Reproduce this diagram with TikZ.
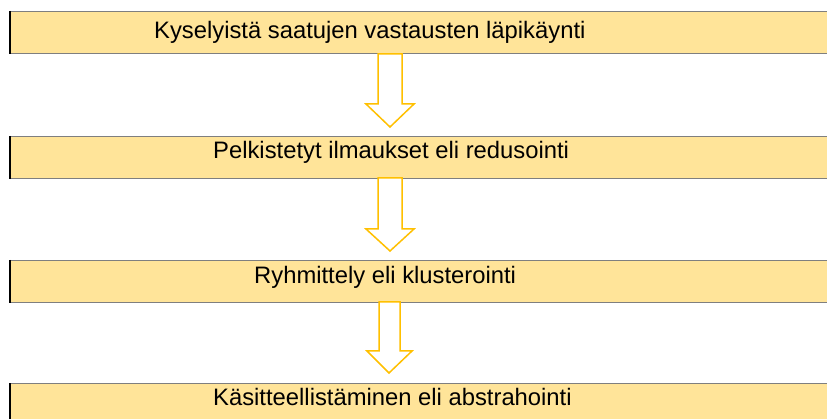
\documentclass[tikz,border=0pt]{standalone}
\usepackage{fontspec}
\setmainfont{Liberation Sans}
\definecolor{boxfill}{HTML}{FFE499}
\definecolor{boxline}{HTML}{7F7F7F}
\definecolor{arrowline}{HTML}{FFC000}
\tikzset{
  stagebox/.style={rectangle, fill=boxfill, draw=boxline, line width=1.3pt, minimum width=840pt, anchor=north west, inner sep=0pt},
  stagetext/.style={anchor=base west, inner sep=0pt, font=\fontsize{23.8}{28}\selectfont},
  flowarrow/.style={fill=white, draw=arrowline, line width=1.5pt, line join=miter}
}
\begin{document}
\begin{tikzpicture}[x=1pt,y=-1pt]
\useasboundingbox (0,0) rectangle (827,419);
\clip (0,0) rectangle (827,419);
\fill[white] (0,0) rectangle (827,419);
% boxes
\node[stagebox, minimum height=42pt] (b1) at (10,11) {};
\node[stagebox, minimum height=42pt] (b2) at (10,136) {};
\node[stagebox, minimum height=42pt] (b3) at (10,260) {};
\node[stagebox, minimum height=60pt] (b4) at (10,383) {};
\draw[black, line width=1.3pt] (b1.north west) -- (b1.south west);
\draw[black, line width=1.3pt] (b2.north west) -- (b2.south west);
\draw[black, line width=1.3pt] (b3.north west) -- (b3.south west);
\draw[black, line width=1.3pt] (b4.north west) -- (b4.south west);
% texts
\node[stagetext] (t1) at (154,39) {Kyselyistä saatujen vastausten läpikäynti};
\node[stagetext] (t2) at (213,159) {Pelkistetyt ilmaukset eli redusointi};
\node[stagetext] (t3) at (254,284) {Ryhmittely eli klusterointi};
\node[stagetext] (t4) at (213,406) {Käsitteellistäminen eli abstrahointi};
% arrows
\draw[flowarrow] (378,54) -- (402,54) -- (402,104) -- (414,104) -- (390,127) -- (366,104) -- (378,104) -- cycle;
\draw[flowarrow] (378,178) -- (402,178) -- (402,229) -- (414,229) -- (390,251) -- (366,229) -- (378,229) -- cycle;
\draw[flowarrow] (379,302) -- (400,302) -- (400,351) -- (412,351) -- (389,373) -- (367,351) -- (379,351) -- cycle;
\end{tikzpicture}
\end{document}
